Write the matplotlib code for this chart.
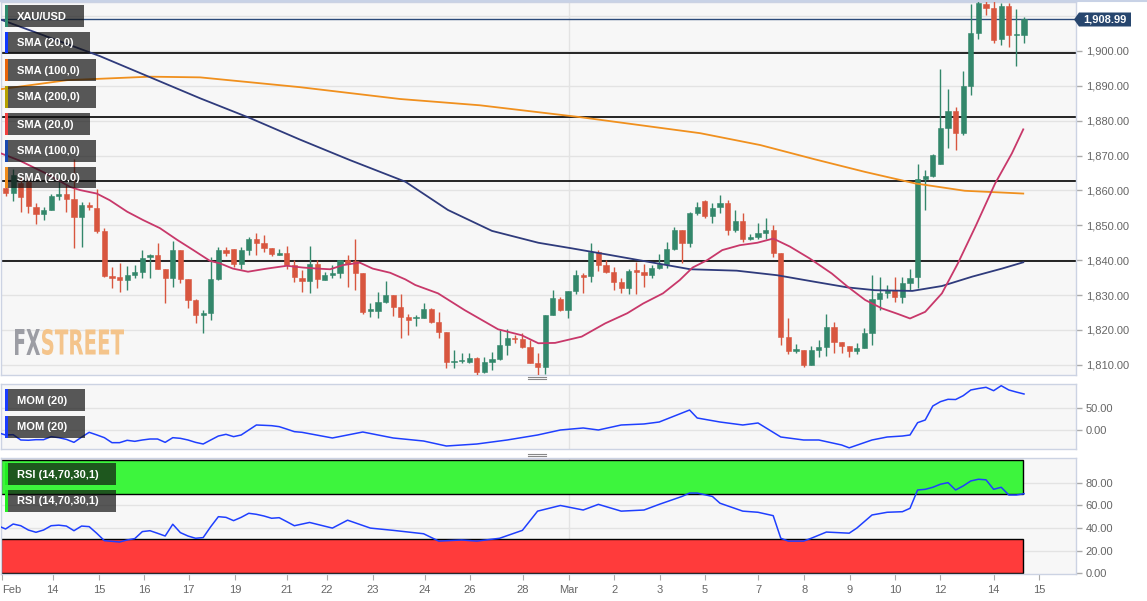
import matplotlib

matplotlib.use("Agg")
import matplotlib.pyplot as plt  # noqa: E402
from matplotlib.patches import Rectangle, Polygon, PathPatch  # noqa: E402
from matplotlib.lines import Line2D  # noqa: E402
from matplotlib.textpath import TextPath  # noqa: E402
from matplotlib.font_manager import FontProperties  # noqa: E402
from matplotlib.transforms import Affine2D  # noqa: E402

# --------------------------------------------------------------------------- #
# data (4h candles, index 0 = first full candle)
# --------------------------------------------------------------------------- #
opens = [1860.7, 1859.2, 1862.0, 1862.5, 1855.3, 1853.1, 1854.5, 1858.5, 1858.9, 1857.4,
         1852.4, 1855.9, 1855.1, 1848.4, 1835.6, 1835.2, 1834.3, 1835.8, 1836.6, 1840.8,
         1841.4, 1837.5, 1834.8, 1842.9, 1834.5, 1828.5, 1824.3, 1824.9, 1834.6, 1842.9,
         1843.1, 1838.9, 1842.9, 1846.0, 1845.0, 1843.4, 1841.6, 1842.0, 1838.5, 1834.8,
         1834.1, 1838.9, 1834.3, 1835.7, 1836.4, 1840.0, 1839.8, 1836.2, 1825.5, 1825.5,
         1828.1, 1829.9, 1826.5, 1823.6, 1823.3, 1823.5, 1825.9, 1822.2, 1819.3, 1810.9,
         1811.0, 1810.7, 1811.9, 1808.0, 1810.9, 1811.6, 1815.6, 1817.8, 1817.3, 1815.2,
         1810.6, 1809.3, 1824.3, 1829.0, 1825.7, 1831.1, 1835.7, 1835.4, 1842.4, 1838.6,
         1836.7, 1833.8, 1831.9, 1836.9, 1836.7, 1835.7, 1837.9, 1838.8, 1843.1, 1848.6,
         1844.8, 1853.6, 1857.0, 1852.6, 1855.3, 1856.5, 1848.6, 1851.2, 1846.2, 1846.6,
         1847.7, 1848.6, 1842.1, 1818.1, 1814.1, 1814.4, 1809.9, 1814.2, 1815.2, 1820.9,
         1816.5, 1815.5, 1814.0, 1814.9, 1819.0, 1828.9, 1830.7, 1831.6, 1829.5, 1833.6,
         1835.3, 1863.2, 1864.1, 1867.7, 1878.0, 1882.8, 1876.5, 1889.9, 1905.2, 1913.4,
         1912.4, 1903.3, 1912.8, 1904.5, 1904.5]
highs = [1861.5, 1866.0, 1864.0, 1864.0, 1856.3, 1855.3, 1859.1, 1865.3, 1861.5, 1869.0,
         1856.7, 1856.7, 1860.5, 1849.1, 1838.1, 1839.1, 1838.3, 1838.6, 1842.9, 1841.7,
         1845.0, 1837.5, 1845.5, 1842.9, 1834.5, 1829.0, 1825.7, 1841.0, 1843.9, 1843.7,
         1843.1, 1843.9, 1846.7, 1847.7, 1847.2, 1843.4, 1843.1, 1844.0, 1840.0, 1837.2,
         1844.0, 1840.0, 1836.7, 1838.6, 1840.0, 1841.5, 1846.2, 1836.2, 1827.6, 1831.0,
         1834.0, 1829.9, 1830.3, 1824.5, 1824.3, 1827.8, 1826.4, 1825.2, 1819.3, 1814.2,
         1813.5, 1813.3, 1812.3, 1812.3, 1813.8, 1820.0, 1820.2, 1818.5, 1819.2, 1817.1,
         1813.3, 1824.3, 1831.4, 1829.5, 1831.1, 1837.2, 1836.2, 1845.0, 1842.9, 1840.0,
         1838.1, 1835.0, 1837.6, 1839.5, 1838.8, 1838.6, 1841.8, 1845.3, 1849.6, 1848.6,
         1853.9, 1856.7, 1857.2, 1856.3, 1858.7, 1857.2, 1854.4, 1853.4, 1847.5, 1850.7,
         1852.0, 1850.1, 1842.1, 1823.3, 1816.1, 1814.4, 1815.4, 1817.1, 1824.6, 1822.2,
         1816.5, 1815.5, 1816.2, 1820.5, 1835.7, 1835.3, 1832.9, 1835.3, 1835.3, 1837.4,
         1867.7, 1865.8, 1870.4, 1894.9, 1889.2, 1884.0, 1894.2, 1913.4, 1914.5, 1914.5,
         1914.5, 1913.8, 1913.6, 1912.1, 1909.8]
lows = [1858.4, 1857.0, 1853.9, 1853.4, 1850.5, 1851.5, 1854.3, 1857.2, 1853.9, 1843.4,
        1843.8, 1854.3, 1847.7, 1835.3, 1831.9, 1831.0, 1831.4, 1834.8, 1834.8, 1834.8,
        1837.5, 1827.6, 1832.4, 1833.5, 1826.2, 1821.9, 1819.0, 1822.8, 1834.3, 1841.2,
        1838.1, 1837.4, 1841.5, 1841.5, 1842.4, 1841.2, 1841.6, 1837.4, 1833.8, 1831.0,
        1830.5, 1831.9, 1834.3, 1835.0, 1834.8, 1832.4, 1831.4, 1824.7, 1823.6, 1823.3,
        1827.8, 1824.1, 1817.6, 1818.6, 1821.0, 1823.5, 1821.9, 1817.6, 1809.0, 1809.0,
        1810.4, 1810.4, 1807.1, 1807.6, 1808.5, 1811.4, 1812.8, 1816.2, 1814.7, 1810.4,
        1807.1, 1807.4, 1824.3, 1825.5, 1823.3, 1830.2, 1830.5, 1833.8, 1837.0, 1836.4,
        1831.4, 1830.5, 1830.3, 1830.3, 1832.4, 1835.0, 1837.6, 1837.9, 1843.0, 1839.1,
        1843.8, 1852.9, 1852.2, 1850.7, 1853.4, 1847.2, 1848.1, 1845.3, 1845.8, 1846.0,
        1846.2, 1841.0, 1815.7, 1813.1, 1813.3, 1809.5, 1809.9, 1812.3, 1812.5, 1813.5,
        1813.3, 1812.2, 1813.0, 1814.9, 1815.7, 1825.7, 1829.3, 1828.1, 1827.8, 1831.4,
        1831.9, 1854.4, 1863.9, 1867.7, 1872.2, 1871.7, 1875.9, 1887.3, 1903.5, 1910.2,
        1902.3, 1901.6, 1901.0, 1895.6, 1902.3]
closes = [1859.2, 1864.3, 1858.0, 1855.5, 1853.1, 1854.5, 1858.4, 1858.9, 1857.5, 1852.4,
          1855.8, 1855.3, 1848.4, 1835.6, 1835.0, 1834.3, 1835.7, 1836.6, 1840.6, 1841.4,
          1837.5, 1834.8, 1842.9, 1834.5, 1828.6, 1824.2, 1825.0, 1834.5, 1842.9, 1842.1,
          1838.9, 1842.9, 1846.2, 1845.0, 1843.6, 1841.7, 1841.9, 1838.5, 1835.1, 1834.1,
          1838.9, 1834.5, 1835.7, 1836.4, 1840.0, 1838.8, 1836.2, 1825.2, 1825.9, 1828.1,
          1829.9, 1826.7, 1823.8, 1823.0, 1823.5, 1825.9, 1822.2, 1819.3, 1810.7, 1811.1,
          1811.3, 1811.9, 1808.0, 1810.7, 1811.6, 1815.6, 1817.6, 1817.3, 1815.2, 1810.6,
          1809.3, 1824.3, 1829.1, 1825.7, 1831.1, 1835.7, 1835.3, 1842.4, 1838.6, 1836.7,
          1833.8, 1831.9, 1836.9, 1836.7, 1835.7, 1837.9, 1838.8, 1843.1, 1848.6, 1844.8,
          1853.6, 1855.3, 1852.6, 1855.1, 1856.5, 1848.6, 1851.2, 1846.2, 1846.7, 1847.7,
          1848.6, 1842.1, 1818.1, 1814.1, 1814.4, 1809.9, 1814.2, 1815.2, 1820.9, 1816.5,
          1815.5, 1814.0, 1814.9, 1819.0, 1828.9, 1830.7, 1831.6, 1829.5, 1833.6, 1834.9,
          1863.2, 1864.1, 1870.1, 1878.0, 1882.8, 1876.5, 1889.9, 1905.2, 1913.6, 1912.4,
          1903.1, 1912.8, 1904.5, 1904.6, 1909.0]

sma20_x = [-0.7, 1.9, 5.2, 8.5, 9.8, 12.0, 13.7, 16.0, 18.1, 20.3, 22.6, 24.7, 26.9, 28.2,
           29.9, 31.9, 34.4, 37.0, 39.1, 41.0, 42.7, 44.4, 46.6, 48.3, 50.6, 52.6, 53.9,
           56.9, 60.4, 64.8, 67.9, 70.1, 72.3, 75.8, 78.9, 81.8, 83.9, 86.5, 88.7, 90.4,
           92.3, 94.3, 96.6, 98.9, 101.0, 103.2, 105.8, 108.7, 110.8, 113.1, 115.3, 117.4,
           119.0, 121.0, 123.2, 125.3, 127.6, 130.2, 132.4, 133.9]
sma20_y = [1870.7, 1868.5, 1865.0, 1861.0, 1860.1, 1859.1, 1857.2, 1853.9, 1851.5, 1849.2,
           1845.8, 1842.9, 1839.8, 1839.1, 1837.6, 1836.7, 1837.6, 1838.4, 1837.9, 1837.6,
           1837.4, 1838.6, 1839.3, 1837.6, 1836.4, 1834.5, 1832.9, 1830.5, 1825.7, 1820.2,
           1818.5, 1816.2, 1816.3, 1818.1, 1821.9, 1824.8, 1827.6, 1830.5, 1834.3, 1837.9,
           1840.0, 1842.9, 1844.3, 1845.0, 1846.2, 1843.9, 1840.5, 1836.2, 1832.4, 1828.6,
           1826.2, 1824.6, 1823.3, 1825.2, 1830.5, 1839.1, 1849.6, 1862.0, 1870.6, 1877.5]
sma100_x = [-0.7, 0.2, 12.4, 25.6, 32.2, 38.7, 45.3, 52.6, 58.2, 64.0, 70.1, 74.5, 79.5,
            83.9, 90.1, 96.2, 101.5, 106.5, 110.8, 114.4, 119.3, 123.2, 127.2, 131.1, 133.9]
sma100_y = [1909.0, 1908.3, 1898.5, 1886.4, 1880.7, 1874.6, 1868.7, 1862.5, 1854.4, 1848.4,
            1845.0, 1843.4, 1841.5, 1839.8, 1837.4, 1837.0, 1835.7, 1833.8, 1832.2, 1831.4,
            1831.2, 1832.6, 1835.3, 1837.6, 1839.4]
sma200_x = [-0.7, 8.1, 19.0, 25.6, 38.7, 51.9, 62.4, 75.6, 91.4, 99.3, 106.5, 113.1, 119.7,
            126.2, 133.9]
sma200_y = [1889.0, 1891.6, 1892.6, 1892.4, 1889.6, 1886.2, 1884.4, 1881.0, 1876.4, 1873.0,
            1868.9, 1865.3, 1862.0, 1859.9, 1859.1]

levels = [1899.3, 1880.9, 1862.6, 1839.8]
last_price = 1908.99

mom_x = list(range(-1, 40)) + [43, 47, 51, 55, 58, 62, 66, 70, 73, 76, 78, 81, 84, 86, 90, 91,
                               94, 97, 99, 102, 105, 107, 110, 111, 114, 116, 118] \
    + list(range(119, 135))
mom_y = [-6, -11.2, -10.5, -22.4, -23, -21.7, -21.7, -14.9, -17.2, -21, -27.7, -16, -5.2, -11,
         -17.2, -28.4, -28.4, -23.1, -25.4, -22.4, -20.2, -20.2, -27.7, -17.2, -18.7, -22.4,
         -27.7, -31.4, -22.4, -13.5, -9.7, -14.9, -11.2, 0, 11.2, 10.5, 9.7, 7.5, 2, -3.7, -5.2,
         -17.9, -4.5, -17.9, -24.7, -35.9, -31.4, -22.4, -11.2, 0, 4.5, 0, 11.2, 13.5, 17.9,
         44.8, 26.9, 17.9, 11.2, 15.7, -15.7, -22.4, -22.4, -33.6, -40, -22.4, -15.7, -13.5,
         -11.2, 16.4, 22.4, 53.8, 63.5, 68.8, 68.3, 76.9, 89.7, 93, 95.7, 88.1, 99.3, 89.7,
         85, 80.7]

rsi_x = list(range(-1, 39)) + [40, 43, 45, 48, 51, 55, 57, 60, 62, 65, 68, 70, 73, 76, 78, 81,
                               84, 86, 89, 90, 91, 93, 94, 97, 99, 101, 102, 103, 105, 106,
                               108, 111, 112, 114, 116, 118] + list(range(119, 135))
rsi_y = [42.1, 39.2, 43.6, 42.1, 38.3, 36.3, 38.3, 42.1, 42.6, 41.8, 37.7, 41.8, 41.3, 35.4,
         28.9, 28.3, 27.7, 29.5, 30.7, 36.9, 37.7, 35.4, 33, 43.4, 36, 33, 31, 31.6, 41.3,
         50.1, 49.5, 46.6, 49.5, 53.1, 52.2, 50.7, 48.7, 49.2, 45.7, 42.1,
         45, 40, 47, 40, 38, 35, 28.5, 29.5, 28.5, 31, 38, 55, 60, 56, 61, 55, 56, 61, 68, 71,
         71, 68, 62, 55, 54, 51, 31, 28.5, 28.5, 31, 36.5, 35.5, 40, 51.6, 54, 54.5,
         57.5, 73.7, 74.3, 76.1, 78.8, 80.2, 73.7, 77.3, 81.7, 83.2, 82.7, 74.3, 76.1, 69.3,
         69.3, 70.4]

tick_pos = [-0.5, 6.2, 12.3, 18.2, 24.1, 30.2, 37, 42.3, 48.3, 55.2, 61.1, 68.1, 74.1, 80.1,
            86.1, 92, 99, 105.1, 111.1, 117, 123, 130, 136]
tick_lab = ["Feb", "14", "15", "16", "17", "19", "21", "22", "23", "24", "26", "28", "Mar",
            "2", "3", "5", "7", "8", "9", "10", "12", "14", "15"]

# --------------------------------------------------------------------------- #
W, H = 1147, 601
GREEN, RED = "#33876b", "#d8563f"
PANEL, EDGE, GRID = "#f7f7f7", "#ccd3e3", "#e3e3e3"
XLIM = (-0.6, 140.84)

plt.rcParams["font.family"] = ["Liberation Sans", "DejaVu Sans"]
fig = plt.figure(figsize=(W / 100, H / 100), dpi=100)
fig.patch.set_facecolor("white")


def panel(top, bottom):
    ax = fig.add_axes([1 / W, (H - bottom) / H, 1075 / W, (bottom - top) / H])
    ax.set_facecolor(PANEL)
    for s in ax.spines.values():
        s.set_color(EDGE)
        s.set_linewidth(1)
    ax.set_xlim(*XLIM)
    ax.yaxis.tick_right()
    ax.tick_params(axis="y", labelsize=8, labelcolor="#666666", color="#aaaaaa",
                   length=4, width=1, pad=3)
    ax.tick_params(axis="x", bottom=False, labelbottom=False)
    ax.axvline(tick_pos[12], color=GRID, lw=1, zorder=0)
    return ax


def tag(x, y, w, h, text, stripe):
    fig.add_artist(Rectangle((x / W, 1 - (y + h) / H), w / W, h / H,
                             transform=fig.transFigure, fc="#101010", alpha=0.69,
                             ec="none", zorder=5))
    fig.add_artist(Rectangle((x / W, 1 - (y + h) / H), 2.5 / W, h / H,
                             transform=fig.transFigure, fc=stripe, ec="none", zorder=6))
    fig.text((x + 12) / W, 1 - (y + h / 2 + 0.5) / H, text, color="white", fontsize=8,
             fontweight="bold", va="center", ha="left", zorder=7)


# ---- price panel ---------------------------------------------------------- #
ax = panel(2, 375)
ax.set_ylim(1807.1, 1914.0)
yt = list(range(1810, 1901, 10))
ax.set_yticks(yt)
ax.set_yticklabels([f"{v:,.2f}" for v in yt])
for v in yt + [1910]:
    ax.axhline(v, color=GRID, lw=1, zorder=0)
for lv in levels:
    ax.axhline(lv, color="black", lw=1.2, zorder=2)
ax.axhline(last_price, color="#2b4a7a", lw=1, zorder=2)

idx = list(range(len(opens)))
cols = [GREEN if c >= o else RED for o, c in zip(opens, closes)]
ax.vlines(idx, lows, highs, colors=cols, lw=1, zorder=3)
body_lo = [min(o, c) for o, c in zip(opens, closes)]
body_h = [max(abs(c - o), 0.35) for o, c in zip(opens, closes)]
ax.bar(idx, body_h, bottom=body_lo, width=0.68, color=cols, edgecolor=cols,
       linewidth=0.4, zorder=3)

ax.plot(sma200_x, sma200_y, color="#f0901e", lw=1.3, zorder=4)
ax.plot(sma100_x, sma100_y, color="#2f3b7c", lw=1.3, zorder=4)
ax.plot(sma20_x, sma20_y, color="#c8386a", lw=1.3, zorder=4)

# last price box on the right axis
px = [(1074, 19.5), (1079, 12.5), (1131, 12.5), (1131, 26.5), (1079, 26.5)]
fig.add_artist(Polygon([(x / W, 1 - y / H) for x, y in px], closed=True,
                       transform=fig.transFigure, fc="#27466e", ec="none", zorder=6))
fig.text(1105 / W, 1 - 19.8 / H, f"{last_price:,.2f}", color="white", fontsize=8,
         fontweight="bold", ha="center", va="center", zorder=7)

# watermark
fp = FontProperties(family="DejaVu Sans", weight="bold")
for txt, col, x0, x1 in [("FX", "#9c9da4", 15, 40), ("STREET", "#f4c48b", 42, 124)]:
    tp = TextPath((0, 0), txt, size=10, prop=fp)
    ext = tp.get_extents()
    tr = (Affine2D().translate(-ext.x0, -ext.y0)
          .scale((x1 - x0) / ext.width, 26 / ext.height).translate(x0, H - 355))
    fig.add_artist(PathPatch(tp, transform=tr, fc=col, ec="none", zorder=1))

# ---- momentum panel ------------------------------------------------------- #
am = panel(384, 449)
am.set_ylim(-42.6, 103.1)
am.set_yticks([0, 50])
am.set_yticklabels(["0.00", "50.00"])
for v in (0, 50):
    am.axhline(v, color=GRID, lw=1, zorder=0)
am.plot(mom_x, mom_y, color="#1f3fff", lw=1.1, zorder=3)

# ---- RSI panel ------------------------------------------------------------ #
ar = panel(458, 574)
ar.set_ylim(-0.6, 102.0)
rt = [0, 20, 40, 60, 80]
ar.set_yticks(rt)
ar.set_yticklabels([f"{v:.2f}" for v in rt])
for v in rt[1:]:
    ar.axhline(v, color=GRID, lw=1, zorder=0)
last = idx[-1] - 0.1
ar.add_patch(Rectangle((XLIM[0], 70), last - XLIM[0], 30, fc="#3df53d", ec="black",
                       lw=1, zorder=1))
ar.add_patch(Rectangle((XLIM[0], 0), last - XLIM[0], 30, fc="#ff3b3b", ec="black",
                       lw=1, zorder=1))
ar.plot(rsi_x, rsi_y, color="#1f3fff", lw=1.1, zorder=3)
ar.set_xticks(tick_pos)
ar.set_xticklabels(tick_lab)
ar.tick_params(axis="x", bottom=True, labelbottom=True, labelsize=8,
               labelcolor="#666666", color="#aaaaaa", length=4, pad=4)
ar.get_xticklabels()[0].set_ha("left")

# ---- legends -------------------------------------------------------------- #
tag(5, 5, 79, 22, "XAU/USD", "#2e8b6e")
tag(5, 32, 85, 21, "SMA (20,0)", "#1038ff")
tag(5, 59, 91, 22, "SMA (100,0)", "#e8650c")
tag(5, 86, 91, 22, "SMA (200,0)", "#b5a100")
tag(5, 113, 85, 22, "SMA (20,0)", "#f04040")
tag(5, 140, 91, 22, "SMA (100,0)", "#1848b0")
tag(5, 167, 91, 21, "SMA (200,0)", "#f08c1c")
tag(5, 389, 80, 22, "MOM (20)", "#1a3cff")
tag(5, 416, 80, 22, "MOM (20)", "#1a3cff")
tag(5, 463, 111, 22, "RSI (14,70,30,1)", "#22ee22")
tag(5, 490, 111, 22, "RSI (14,70,30,1)", "#22ee22")

# panel resize handles
for yy in (377.5, 454.5):
    for d in (-1, 1):
        fig.add_artist(Line2D([528 / W, 546 / W], [1 - (yy + d) / H] * 2,
                              transform=fig.transFigure, color="#888888", lw=0.8))
fig.add_artist(Line2D([0, 1], [1 - 0.5 / H] * 2, transform=fig.transFigure,
                      color="#c8d2e6", lw=1.5))

fig.savefig("out.png", dpi=100)
